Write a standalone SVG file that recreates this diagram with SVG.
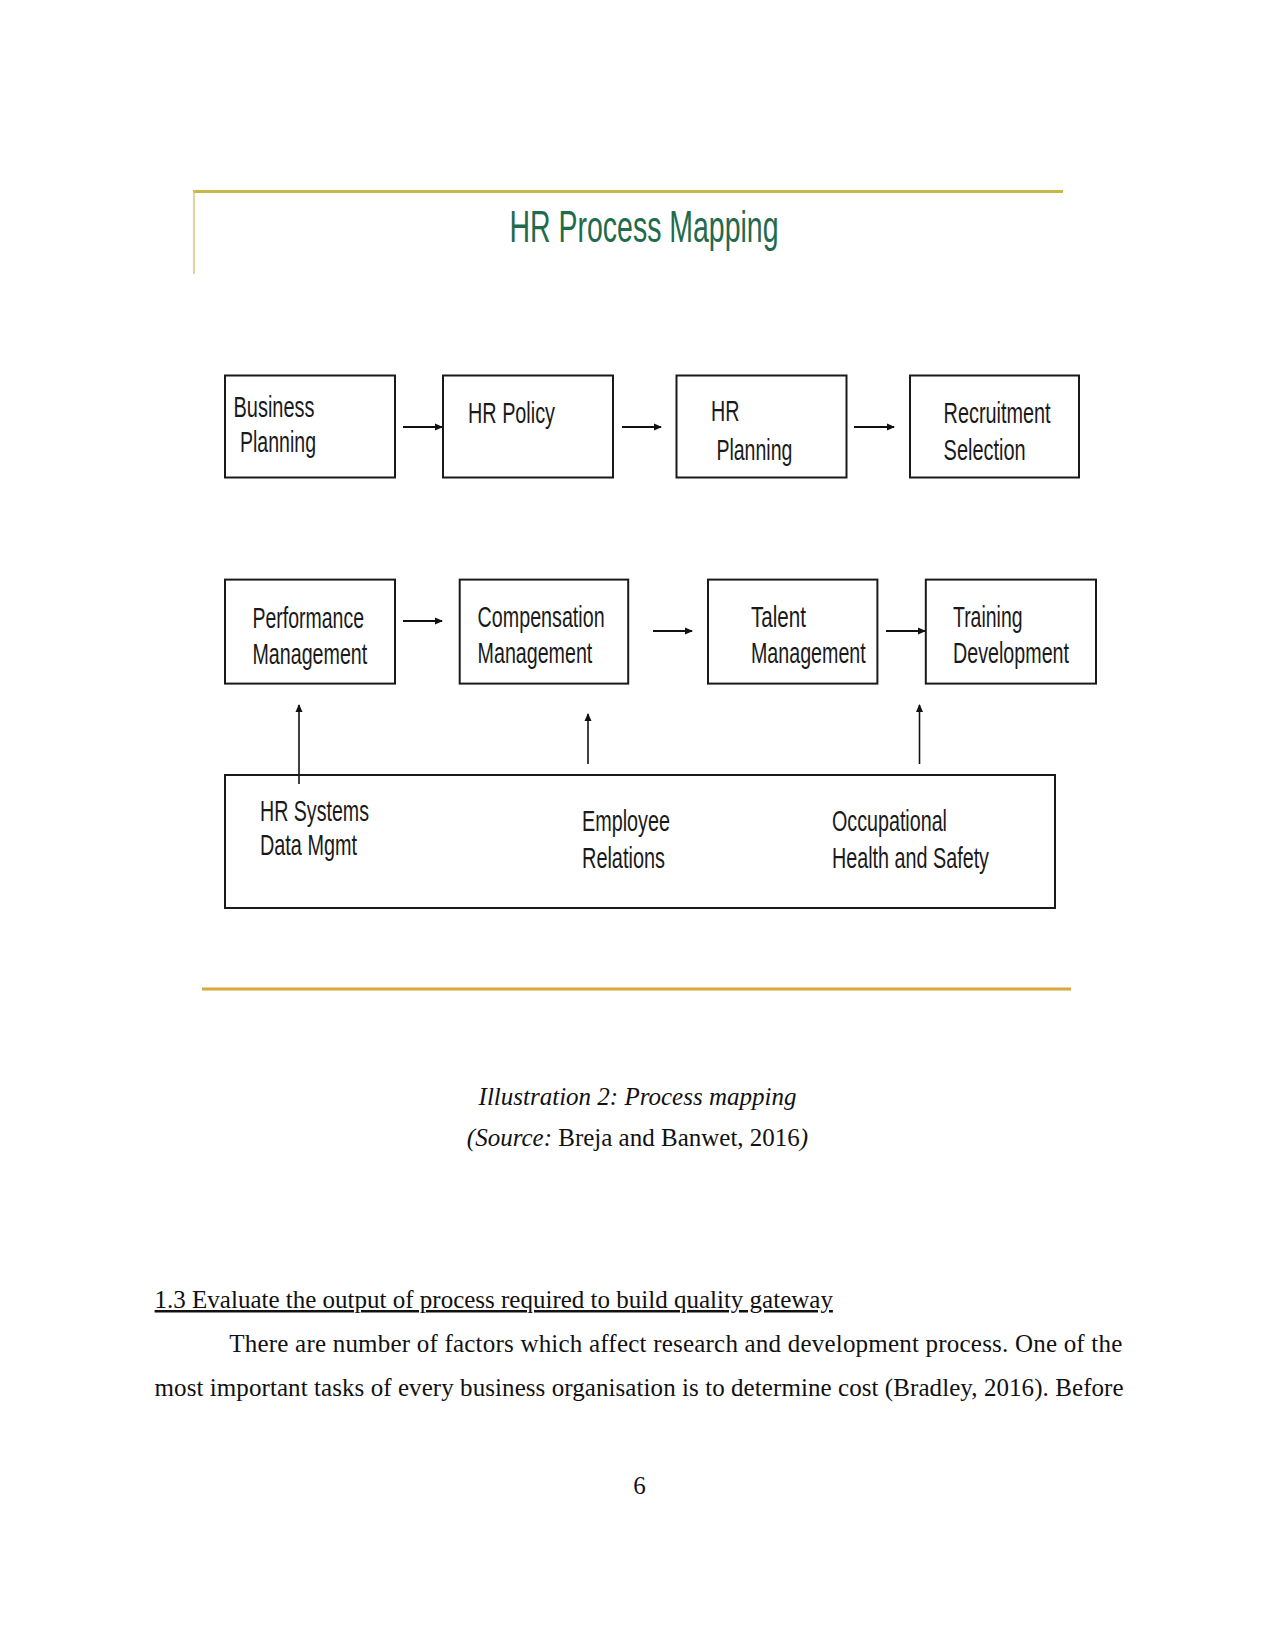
<svg xmlns="http://www.w3.org/2000/svg" width="1275" height="1650" viewBox="0 0 1275 1650">
<style>
.box{fill:none;stroke:#1a1a1a;stroke-width:2}
.lbl{font-family:"Liberation Sans",Arial,sans-serif;font-size:29px;fill:#1a1a1a}
.con{stroke:#111;stroke-width:2;fill:none}
.vcon{stroke:#111;stroke-width:1.6;fill:none}
.serif{font-family:"Liberation Serif","Times New Roman",serif;font-size:25px;fill:#111}
</style>
<defs>
<marker id="ah" markerWidth="8" markerHeight="8" refX="7" refY="4" orient="auto" markerUnits="userSpaceOnUse">
<path d="M0,0.5 L8,4 L0,7.5 Z" fill="#111"/>
</marker>
</defs>
<rect width="1275" height="1650" fill="#fff"/>
<g id="frame">
<line x1="193" y1="191.5" x2="1063" y2="191.5" stroke="#c9b748" stroke-width="3"/>
<line x1="194" y1="191" x2="194" y2="274" stroke="#d9c77a" stroke-width="1.5"/>
<line x1="202" y1="989" x2="1071" y2="989" stroke="#d4aa3a" stroke-width="3"/>
<text x="644" y="242" text-anchor="middle" font-family="Liberation Sans,Arial,sans-serif" font-size="44" fill="#1f6b4c" textLength="269" lengthAdjust="spacingAndGlyphs">HR Process Mapping</text>
</g>
<g id="connectors">
<line class="con" x1="403" y1="427" x2="442" y2="427" marker-end="url(#ah)"/>
<line class="con" x1="622" y1="427" x2="661" y2="427" marker-end="url(#ah)"/>
<line class="con" x1="854" y1="427" x2="894" y2="427" marker-end="url(#ah)"/>
<line class="con" x1="403" y1="621" x2="442" y2="621" marker-end="url(#ah)"/>
<line class="con" x1="653" y1="631" x2="692" y2="631" marker-end="url(#ah)"/>
<line class="con" x1="886" y1="631" x2="925" y2="631" marker-end="url(#ah)"/>
<line class="vcon" x1="299" y1="784" x2="299" y2="705" marker-end="url(#ah)"/>
<line class="vcon" x1="588" y1="764" x2="588" y2="714" marker-end="url(#ah)"/>
<line class="vcon" x1="919.5" y1="764" x2="919.5" y2="705" marker-end="url(#ah)"/>
</g>
<g id="business-planning">
<rect class="box" x="225" y="375.5" width="170" height="102"/>
<text class="lbl" x="233.5" y="416.6" textLength="81" lengthAdjust="spacingAndGlyphs">Business</text>
<text class="lbl" x="240" y="452" textLength="76" lengthAdjust="spacingAndGlyphs">Planning</text>
</g>
<g id="hr-policy">
<rect class="box" x="443" y="375.5" width="170" height="102"/>
<text class="lbl" x="468" y="423" textLength="87" lengthAdjust="spacingAndGlyphs">HR Policy</text>
</g>
<g id="hr-planning">
<rect class="box" x="676.5" y="375.5" width="170" height="102"/>
<text class="lbl" x="711" y="421" textLength="28.5" lengthAdjust="spacingAndGlyphs">HR</text>
<text class="lbl" x="716.4" y="459.7" textLength="76" lengthAdjust="spacingAndGlyphs">Planning</text>
</g>
<g id="recruitment-selection">
<rect class="box" x="910" y="375.5" width="169" height="102"/>
<text class="lbl" x="943.6" y="423" textLength="107" lengthAdjust="spacingAndGlyphs">Recruitment</text>
<text class="lbl" x="943.6" y="459.7" textLength="82" lengthAdjust="spacingAndGlyphs">Selection</text>
</g>
<g id="performance-management">
<rect class="box" x="225" y="579.6" width="170" height="104"/>
<text class="lbl" x="252.5" y="628" textLength="111.5" lengthAdjust="spacingAndGlyphs">Performance</text>
<text class="lbl" x="252.5" y="664" textLength="114.7" lengthAdjust="spacingAndGlyphs">Management</text>
</g>
<g id="compensation-management">
<rect class="box" x="459.7" y="579.6" width="168.5" height="104"/>
<text class="lbl" x="477.6" y="627" textLength="127" lengthAdjust="spacingAndGlyphs">Compensation</text>
<text class="lbl" x="477.6" y="663" textLength="114.7" lengthAdjust="spacingAndGlyphs">Management</text>
</g>
<g id="talent-management">
<rect class="box" x="708" y="579.6" width="169.4" height="104"/>
<text class="lbl" x="751" y="627" textLength="55" lengthAdjust="spacingAndGlyphs">Talent</text>
<text class="lbl" x="751" y="663" textLength="114.7" lengthAdjust="spacingAndGlyphs">Management</text>
</g>
<g id="training-development">
<rect class="box" x="925.8" y="579.6" width="170.2" height="104"/>
<text class="lbl" x="953" y="627" textLength="69.5" lengthAdjust="spacingAndGlyphs">Training</text>
<text class="lbl" x="953" y="663" textLength="116" lengthAdjust="spacingAndGlyphs">Development</text>
</g>
<g id="support-functions">
<rect class="box" x="225" y="775" width="830" height="133"/>
<text class="lbl" x="260" y="820.6" textLength="109" lengthAdjust="spacingAndGlyphs">HR Systems</text>
<text class="lbl" x="260" y="855" textLength="97" lengthAdjust="spacingAndGlyphs">Data Mgmt</text>
<text class="lbl" x="582" y="831" textLength="88" lengthAdjust="spacingAndGlyphs">Employee</text>
<text class="lbl" x="582" y="868" textLength="83" lengthAdjust="spacingAndGlyphs">Relations</text>
<text class="lbl" x="832" y="831" textLength="115" lengthAdjust="spacingAndGlyphs">Occupational</text>
<text class="lbl" x="832" y="868" textLength="157" lengthAdjust="spacingAndGlyphs">Health and Safety</text>
</g>
<g id="page-text">
<text class="serif" x="637.5" y="1105" text-anchor="middle" font-style="italic">Illustration 2: Process mapping</text>
<text class="serif" x="637.5" y="1146" text-anchor="middle"><tspan font-style="italic">(Source:</tspan> Breja and Banwet, 2016<tspan font-style="italic">)</tspan></text>
<text class="serif" x="154.6" y="1308" text-decoration="underline">1.3 Evaluate the output of process required to build quality gateway</text>
<text class="serif" x="229.3" y="1352" textLength="893" lengthAdjust="spacing">There are number of factors which affect research and development process. One of the</text>
<text class="serif" x="154.6" y="1396" textLength="969" lengthAdjust="spacing">most important tasks of every business organisation is to determine cost (Bradley, 2016). Before</text>
<text class="serif" x="639.6" y="1494" text-anchor="middle">6</text>
</g>
</svg>
